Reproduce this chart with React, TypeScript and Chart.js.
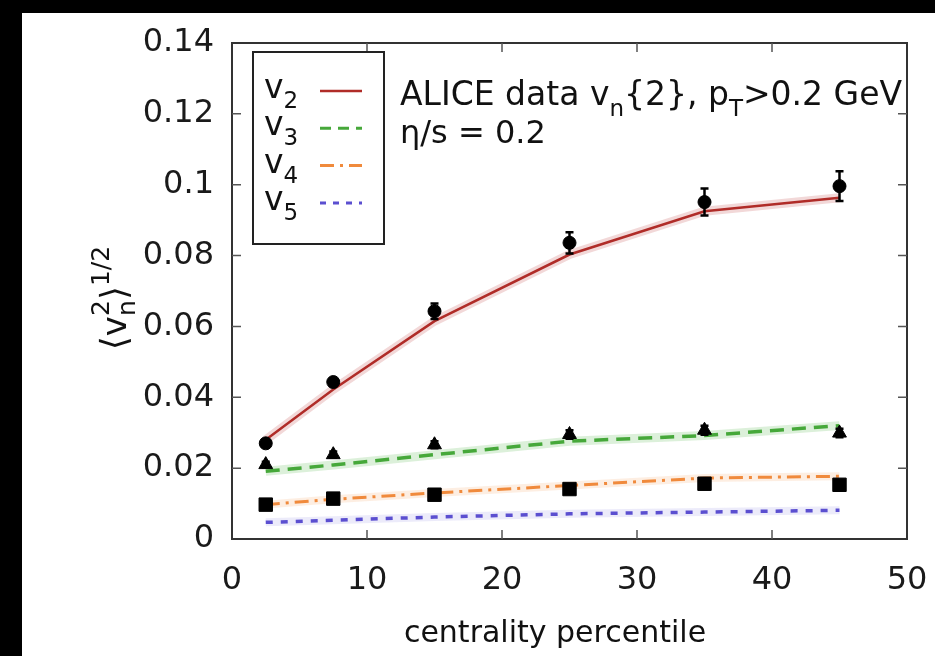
import React, { useEffect, useRef } from "react";
import { Chart, registerables } from "chart.js";
Chart.register(...registerables);

// ---- data ----
const centrality = [2.5, 7.5, 15, 25, 35, 45];
const v2Data = [0.027, 0.0443, 0.0643, 0.0836, 0.0951, 0.0996];
const v2Err = [0.0009, 0.001, 0.0022, 0.003, 0.0038, 0.0042];
const v3Data = [0.021, 0.0238, 0.0266, 0.0295, 0.0307, 0.0299];
const v3Err = [0.0008, 0.0009, 0.001, 0.0012, 0.0013, 0.0012];
const v4Data = [0.0097, 0.0114, 0.0125, 0.0141, 0.0156, 0.0153];
const v4Err = [0.0005, 0.0005, 0.0006, 0.0007, 0.0008, 0.0008];
const v2Theory = [0.028, 0.0422, 0.0615, 0.0803, 0.0925, 0.0963];
const v3Theory = [0.0191, 0.0209, 0.0238, 0.0276, 0.0292, 0.032];
const v4Theory = [0.0097, 0.0112, 0.013, 0.0151, 0.0172, 0.0177];
const v5Theory = [0.0047, 0.0053, 0.0062, 0.0071, 0.0076, 0.0081];
const xTicks = [0, 10, 20, 30, 40, 50];
const xTickLabels = ["0", "10", "20", "30", "40", "50"];
const yTicks = [0, 0.02, 0.04, 0.06, 0.08, 0.1, 0.12, 0.14];
const yTickLabels = ["0", "0.02", "0.04", "0.06", "0.08", "0.1", "0.12", "0.14"];

const FONT = '"DejaVu Sans", sans-serif';
const RED = "#b02c28";
const GREEN = "#46a83a";
const ORANGE = "#f08a3c";
const BLUE = "#5b4fd0";

const pts = (ys: number[]) => centrality.map((x, i) => ({ x, y: ys[i] }));

type Seg = { t: string; size: number; dy: number; noAdvance?: boolean };
function segsWidth(ctx: CanvasRenderingContext2D, segs: Seg[]) {
  let w = 0;
  let held = 0;
  for (const s of segs) {
    ctx.font = `${s.size}px ${FONT}`;
    const m = ctx.measureText(s.t).width;
    if (s.noAdvance) {
      held = Math.max(held, m);
    } else {
      w += Math.max(m, held);
      held = 0;
    }
  }
  return w + held;
}
function drawSegs(ctx: CanvasRenderingContext2D, segs: Seg[], x: number, y: number) {
  let cx = x;
  let held = 0;
  for (const s of segs) {
    ctx.font = `${s.size}px ${FONT}`;
    ctx.fillText(s.t, cx, y + s.dy);
    const m = ctx.measureText(s.t).width;
    if (s.noAdvance) {
      held = Math.max(held, m);
    } else {
      cx += Math.max(m, held);
      held = 0;
    }
  }
}

const errorBarPlugin = {
  id: "errorBars",
  afterDatasetsDraw(chart: any) {
    const ctx = chart.ctx;
    const xs = chart.scales.x;
    const ys = chart.scales.y;
    chart.data.datasets.forEach((ds: any) => {
      if (!ds.errorBars) return;
      ctx.save();
      ctx.strokeStyle = "#000";
      ctx.lineWidth = 2.5;
      ds.data.forEach((p: any, i: number) => {
        const e = ds.errorBars[i];
        const px = xs.getPixelForValue(p.x);
        const y1 = ys.getPixelForValue(p.y + e);
        const y2 = ys.getPixelForValue(p.y - e);
        ctx.beginPath();
        ctx.moveTo(px, y1);
        ctx.lineTo(px, y2);
        ctx.moveTo(px - 4, y1);
        ctx.lineTo(px + 4, y1);
        ctx.moveTo(px - 4, y2);
        ctx.lineTo(px + 4, y2);
        ctx.stroke();
      });
      ctx.restore();
    });
  },
};

const framePlugin = {
  id: "frame",
  afterDraw(chart: any) {
    const ctx = chart.ctx;
    const { left, right, top, bottom } = chart.chartArea;
    const xs = chart.scales.x;
    const ys = chart.scales.y;
    ctx.save();
    ctx.strokeStyle = "#333";
    ctx.lineWidth = 2;
    ctx.strokeRect(left, top, right - left, bottom - top);
    ctx.lineWidth = 1.5;
    ctx.strokeStyle = "#555";
    const tl = 9;
    xTicks.forEach((v) => {
      if (v === xTicks[0] || v === xTicks[xTicks.length - 1]) return;
      const px = xs.getPixelForValue(v);
      ctx.beginPath();
      ctx.moveTo(px, bottom);
      ctx.lineTo(px, bottom - tl);
      ctx.moveTo(px, top);
      ctx.lineTo(px, top + tl);
      ctx.stroke();
    });
    yTicks.forEach((v) => {
      if (v === yTicks[0] || v === yTicks[yTicks.length - 1]) return;
      const py = ys.getPixelForValue(v);
      ctx.beginPath();
      ctx.moveTo(left, py);
      ctx.lineTo(left + tl, py);
      ctx.moveTo(right, py);
      ctx.lineTo(right - tl, py);
      ctx.stroke();
    });

    // legend box
    ctx.strokeStyle = "#222";
    ctx.lineWidth = 2;
    ctx.strokeRect(231, 39, 131, 192);
    const entries = [
      { n: "2", color: RED, dash: [] as number[], w: 2.5 },
      { n: "3", color: GREEN, dash: [11, 7], w: 3 },
      { n: "4", color: ORANGE, dash: [14, 6, 3, 6], w: 3 },
      { n: "5", color: BLUE, dash: [6, 7], w: 3 },
    ];
    ctx.fillStyle = "#111";
    ctx.textBaseline = "alphabetic";
    ctx.textAlign = "left";
    entries.forEach((e, i) => {
      const base = 85 + i * 37.3;
      drawSegs(ctx, [
        { t: "v", size: 33, dy: 0 },
        { t: e.n, size: 23, dy: 10 },
      ], 242, base);
      ctx.save();
      ctx.strokeStyle = e.color;
      ctx.lineWidth = e.w;
      ctx.setLineDash(e.dash);
      ctx.beginPath();
      ctx.moveTo(298, base - 7);
      ctx.lineTo(340, base - 7);
      ctx.stroke();
      ctx.restore();
    });

    // annotation
    ctx.fillStyle = "#111";
    drawSegs(ctx, [
      { t: "ALICE data v", size: 33, dy: 0 },
      { t: "n", size: 23, dy: 11 },
      { t: "{2}, p", size: 33, dy: 0 },
      { t: "T", size: 23, dy: 11 },
      { t: ">0.2 GeV", size: 33, dy: 0 },
    ], 378, 92);
    drawSegs(ctx, [{ t: "\u03b7/s = 0.2", size: 32, dy: 0 }], 378, 130);

    // x title
    ctx.font = `30px ${FONT}`;
    ctx.textAlign = "center";
    ctx.fillText("centrality percentile", 533, 629);
    ctx.textAlign = "left";

    // y title
    const ySegs: Seg[] = [
      { t: "\u27e8", size: 36, dy: 0 },
      { t: "v", size: 34, dy: 0 },
      { t: "n", size: 25, dy: 9, noAdvance: true },
      { t: "2", size: 25, dy: -17 },
      { t: "\u27e9", size: 36, dy: 0 },
      { t: "1/2", size: 25, dy: -17 },
    ];
    ctx.save();
    ctx.translate(94, 285);
    ctx.rotate(-Math.PI / 2);
    const w = segsWidth(ctx, ySegs);
    drawSegs(ctx, ySegs, -w / 2, 10);
    ctx.restore();
    ctx.restore();
  },
};

export default function App() {
  const ref = useRef<HTMLCanvasElement | null>(null);
  useEffect(() => {
    if (!ref.current) return;
    const lineDs = (label: string, ys: number[], color: string, dash: number[], w: number) => ({
      label,
      data: pts(ys),
      showLine: true,
      borderColor: color,
      backgroundColor: color,
      borderWidth: w,
      borderDash: dash,
      pointRadius: 0,
      tension: 0,
      order: 2,
    });
    const bandDs = (ys: number[], color: string, w: number) => ({
      label: "band",
      data: pts(ys),
      showLine: true,
      borderColor: color,
      borderWidth: w,
      pointRadius: 0,
      tension: 0,
      order: 3,
    });
    const dataDs = (label: string, ys: number[], errs: number[], style: string, r: number) => ({
      label,
      data: pts(ys),
      showLine: false,
      pointStyle: style,
      pointRadius: r,
      pointBackgroundColor: "#000",
      pointBorderColor: "#000",
      pointBorderWidth: 1,
      errorBars: errs,
      order: 1,
    });
    const chart = new Chart(ref.current, {
      type: "scatter",
      data: {
        datasets: [
          dataDs("v2 data", v2Data, v2Err, "circle", 6.5),
          dataDs("v3 data", v3Data, v3Err, "triangle", 8),
          dataDs("v4 data", v4Data, v4Err, "rect", 9.5),
          lineDs("v2", v2Theory, RED, [], 2.5),
          lineDs("v3", v3Theory, GREEN, [14, 8], 3.5),
          lineDs("v4", v4Theory, ORANGE, [14, 6, 3, 6], 3),
          lineDs("v5", v5Theory, BLUE, [7, 8], 3.5),
          bandDs(v2Theory, "rgba(190,60,60,0.2)", 9),
          bandDs(v3Theory, "rgba(80,180,70,0.2)", 9),
          bandDs(v4Theory, "rgba(240,140,60,0.15)", 8),
          bandDs(v5Theory, "rgba(100,90,210,0.12)", 8),
        ] as any,
      },
      options: {
        animation: false,
        responsive: false,
        devicePixelRatio: 1,
        layout: { padding: { top: 30, right: 28, left: 0, bottom: 0 } },
        plugins: { legend: { display: false }, tooltip: { enabled: false } },
        scales: {
          x: {
            type: "linear",
            min: 0,
            max: 50,
            afterFit: (s: any) => {
              s.height = 117;
              s.paddingLeft = 0;
              s.paddingRight = 0;
            },
            afterBuildTicks: (s: any) => {
              s.ticks = xTicks.map((v) => ({ value: v }));
            },
            ticks: {
              callback: (v: any, i: number) => xTickLabels[i],
              font: { family: FONT, size: 32 },
              color: "#1a1a1a",
              padding: 22,
              maxRotation: 0,
            },
            grid: { display: false, drawTicks: false },
            border: { display: false },
          },
          y: {
            type: "linear",
            min: 0,
            max: 0.14,
            afterFit: (s: any) => {
              s.width = 210;
              s.paddingTop = 0;
              s.paddingBottom = 0;
            },
            afterBuildTicks: (s: any) => {
              s.ticks = yTicks.map((v) => ({ value: v }));
            },
            ticks: {
              callback: (v: any, i: number) => yTickLabels[i],
              font: { family: FONT, size: 32 },
              color: "#1a1a1a",
              padding: 18,
            },
            grid: { display: false, drawTicks: false },
            border: { display: false },
          },
        },
      },
      plugins: [errorBarPlugin, framePlugin],
    } as any);
    return () => chart.destroy();
  }, []);
  return (
    <div style={{ position: "fixed", left: 0, top: 0, width: 935, height: 656, background: "#000" }}>
      <canvas
        ref={ref}
        width={913}
        height={643}
        style={{ position: "absolute", left: 22, top: 13, width: 913, height: 643, background: "#fff" }}
      />
    </div>
  );
}
